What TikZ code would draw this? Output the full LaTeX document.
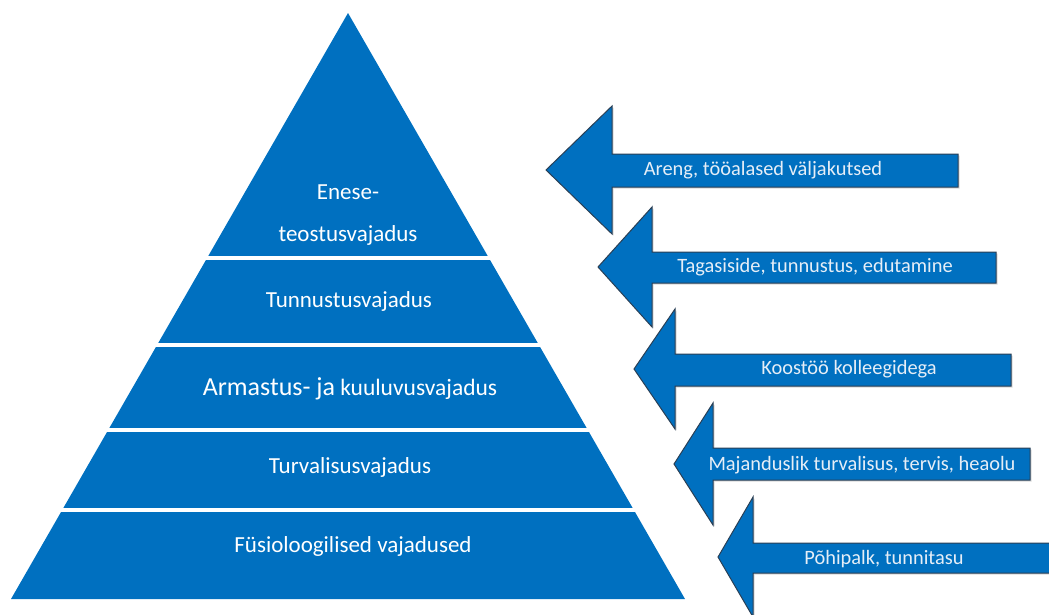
\documentclass[tikz,border=0pt]{standalone}
\usepackage{fontspec}
\setmainfont{Carlito}
\definecolor{pyblue}{HTML}{0070C0}
\definecolor{arrline}{HTML}{2A3F55}
\definecolor{arrtext}{HTML}{E6EEF7}
\begin{document}
\begin{tikzpicture}[x=1pt,y=-1pt,
  layertext/.style={text=white,font=\fontsize{23}{27}\selectfont,anchor=center,inner sep=0pt},
  arrowtext/.style={text=arrtext,font=\fontsize{20.4}{24}\selectfont,anchor=center,inner sep=0pt},
  blockarr/.style={fill=pyblue,draw=arrline,line width=1pt,line join=miter},
  arrshadow/.style={fill=black,opacity=0.15},
  gapline/.style={white,line width=4pt}]
\useasboundingbox (0,0) rectangle (1049,614);
\clip (0,0) rectangle (1049,614);
% pyramid
\fill[pyblue] (348,13) -- (685,599) -- (11,599) -- cycle;
\foreach \yy in {258,345,430,510}
  \draw[gapline] (0,\yy) -- (700,\yy);
\node[layertext,align=center] (l1a) at (348,192) {Enese-};
\node[layertext] (l1b) at (348,235) {teostusvajadus};
\node[layertext] (l2) at (349,301) {Tunnustusvajadus};
\node[layertext] (l3) at (350,389) {{\fontsize{26}{30}\selectfont Armastus- ja} {\fontsize{23.5}{27}\selectfont kuuluvusvajadus}};
\node[layertext] (l4) at (350,467) {Turvalisusvajadus};
\node[layertext] (l5) at (353,546) {Füsioloogilised vajadused};
% arrows: tip x, tip y, back x, head half, shaft top, shaft bottom, right end
\newcommand\blockarrowdraw[7]{%
  \fill[arrshadow] (#1+1.5,#2+1.5) -- (#3+1.5,#2-#4+1.5) -- (#3+1.5,#5+1.5) -- (#7+1.5,#5+1.5) -- (#7+1.5,#6+1.5) -- (#3+1.5,#6+1.5) -- (#3+1.5,#2+#4+1.5) -- cycle;
  \draw[blockarr] (#1,#2) -- (#3,#2-#4) -- (#3,#5) -- (#7,#5) -- (#7,#6) -- (#3,#6) -- (#3,#2+#4) -- cycle;}
\blockarrowdraw{546}{170}{612}{64}{154}{187}{958}
\node[arrowtext] (a1) at (763,170) {Areng, tööalased väljakutsed};
\blockarrowdraw{598}{267}{652}{60}{252}{283}{996}
\node[arrowtext] (a2) at (815,267) {Tagasiside, tunnustus, edutamine};
\blockarrowdraw{634}{369}{675}{60}{354}{386}{1011}
\node[arrowtext] (a3) at (849,369) {Koostöö kolleegidega};
\blockarrowdraw{674}{464}{713}{61}{448}{480}{1030}
\node[arrowtext] (a4) at (862,465) {Majanduslik turvalisus, tervis, heaolu};
\blockarrowdraw{718}{557}{753}{60}{543}{573}{1065}
\node[arrowtext] (a5) at (884,559) {Põhipalk, tunnitasu};
\end{tikzpicture}
\end{document}
